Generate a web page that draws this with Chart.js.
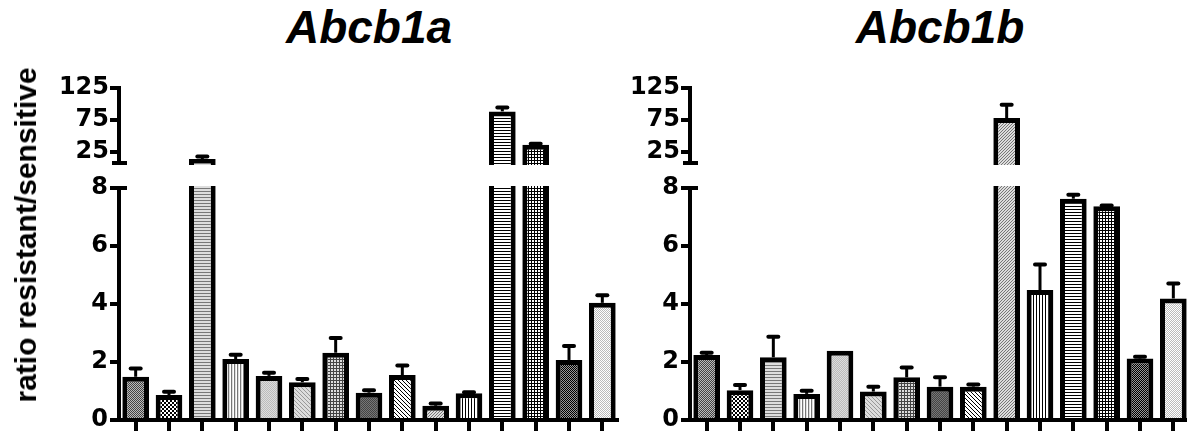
<!DOCTYPE html>
<html><head><meta charset="utf-8">
<script src="https://cdn.jsdelivr.net/npm/chart.js@4"></script>
<style>
html,body{margin:0;padding:0;background:#fff;overflow:hidden;width:1187px;height:438px;}
#wrap{position:relative;width:1187px;height:438px;overflow:hidden;}
canvas{position:absolute;}
.title{position:absolute;top:4px;font-family:'Liberation Sans',Arial,sans-serif;font-weight:bold;font-style:italic;font-size:46px;line-height:46px;white-space:nowrap;transform:translateX(-50%);color:#000;}
.ylab{position:absolute;left:26px;top:235px;font-family:'Liberation Sans',Arial,sans-serif;font-weight:bold;font-size:30px;line-height:30px;white-space:nowrap;transform:translate(-50%,-50%) rotate(-90deg);color:#000;}
</style></head>
<body><div id="wrap">
<canvas id="aHigh" width="619" height="111" style="left:0;top:70px;"></canvas>
<canvas id="aLow" width="619" height="268" style="left:0;top:170px;"></canvas>
<canvas id="bHigh" width="625" height="111" style="left:565px;top:70px;"></canvas>
<canvas id="bLow" width="625" height="268" style="left:565px;top:170px;"></canvas>
<div class="title" style="left:369px;">Abcb1a</div>
<div class="title" style="left:940px;">Abcb1b</div>
<div class="ylab">ratio resistant/sensitive</div>
</div>
<script>
// ---- data ----
const categories = ['1','2','3','4','5','6','7','8','9','10','11','12','13','14','15'];
const abcb1aValues = [1.49, 0.86, 14.2, 2.10, 1.52, 1.30, 2.32, 0.94, 1.55, 0.49, 0.92, 88.5, 36.5, 2.07, 4.04];
const abcb1aErrors = [0.29, 0.11, 4.1, 0.15, 0.11, 0.11, 0.51, 0.09, 0.33, 0.08, 0.04, 6.0, 1.5, 0.48, 0.26];
const abcb1bValues = [2.24, 1.03, 2.16, 0.90, 2.39, 0.98, 1.47, 1.15, 1.15, 78.2, 4.48, 7.63, 7.37, 2.12, 4.19];
const abcb1bErrors = [0.08, 0.18, 0.71, 0.11, 0.0, 0.17, 0.34, 0.32, 0.07, 20.8, 0.88, 0.14, 0.03, 0.06, 0.52];
const lowTicks = [0, 2, 4, 6, 8];
const highTicks = [25, 75, 125];
const LOW_MIN = 0, LOW_MAX = 8, HIGH_MAX = 125;

// ---- styling ----
const FONT = {family: "'DejaVu Sans', sans-serif", size: 24, weight: 'bold'};
const pal = {k:'#000000', d:'#444444', m:'#777777', g:'#999999', l:'#bbbbbb', p:'#dddddd', w:'#ffffff'};
function tile(rows) {
  const h = rows.length, w = rows[0].length;
  const c = document.createElement('canvas'); c.width = w; c.height = h;
  const cx = c.getContext('2d');
  for (let r = 0; r < h; r++) for (let q = 0; q < w; q++) {
    cx.fillStyle = pal[rows[r][q]]; cx.fillRect(q, r, 1, 1);
  }
  return c;
}
const tiles = [
  ['dl','ld'],
  ['kkww','kkww','wwkk','wwkk'],
  ['m','p','p'],
  ['mpw'],
  ['lp','pl'],
  ['gppp','pgpp','ppgp','pppg'],
  ['ddd','dpp','dpp'],
  ['dm','md'],
  ['kwww','wkww','wwkw','wwwk'],
  ['ppm','pmp','mpp'],
  ['kww'],
  ['k','w','w'],
  ['kkk','kww','kww'],
  ['kg','gk'],
  ['lw','wl']
].map(tile);
function patterns(ctx) { return tiles.map(t => ctx.createPattern(t, 'repeat')); }

function errPlugin(values, errors) {
  return {
    id: 'errbars',
    afterDatasetsDraw(chart) {
      const {ctx, chartArea: a, scales: {x, y}} = chart;
      ctx.save();
      ctx.beginPath(); ctx.rect(a.left, a.top - 20, a.right - a.left, a.bottom - a.top + 20); ctx.clip();
      ctx.strokeStyle = '#000';
      values.forEach((v, i) => {
        if (v == null || v < y.min || v > y.max || !errors[i]) return;
        const cx = x.getPixelForValue(i);
        const y0 = y.getPixelForValue(v), y1 = y.getPixelForValue(v + errors[i]);
        ctx.lineWidth = 3; ctx.lineCap = 'butt';
        ctx.beginPath(); ctx.moveTo(cx, y0); ctx.lineTo(cx, y1); ctx.stroke();
        ctx.lineWidth = 4; ctx.lineCap = 'round';
        ctx.beginPath(); ctx.moveTo(cx - 5, y1); ctx.lineTo(cx + 5, y1); ctx.stroke();
      });
      ctx.restore();
    }
  };
}
function breakPlugin(where) {
  return {
    id: 'brk',
    afterDraw(chart) {
      const {ctx, chartArea: a} = chart;
      ctx.save(); ctx.strokeStyle = '#000'; ctx.lineWidth = 4; ctx.beginPath();
      if (where === 'top') { ctx.moveTo(a.left - 2, a.top); ctx.lineTo(a.left + 8, a.top); }
      else { ctx.moveTo(a.left - 7, a.bottom); ctx.lineTo(a.left + 8, a.bottom); }
      ctx.stroke(); ctx.restore();
    }
  };
}
function yAxis(min, max, ticks, width, pad) {
  return {
    min: min, max: max,
    afterBuildTicks: s => { s.ticks = ticks.map(v => ({value: v})); },
    afterFit: s => { s.width = width; },
    grid: {drawOnChartArea: false, drawTicks: true, tickLength: 9, tickWidth: 4, lineWidth: 4, color: '#000'},
    border: {display: true, width: 4, color: '#000'},
    ticks: {font: FONT, color: '#000', padding: pad}
  };
}
function lowChart(id, values, errors, axisWidth) {
  const el = document.getElementById(id);
  return new Chart(el, {
    type: 'bar',
    data: {labels: categories, datasets: [{
      data: values, backgroundColor: patterns(el.getContext('2d')), borderColor: '#000', borderWidth: 5,
      borderSkipped: 'start', barPercentage: 0.8, categoryPercentage: 1,
      clip: {left: 0, right: 0, top: 2, bottom: 0}
    }]},
    options: {
      responsive: false, animation: false, devicePixelRatio: 1,
      layout: {padding: {top: 18, right: 0, bottom: 0, left: 0}},
      plugins: {legend: {display: false}, tooltip: {enabled: false}},
      scales: {
        x: {offset: true, afterFit: s => { s.height = 18; },
            grid: {offset: false, drawOnChartArea: false, drawTicks: true, tickLength: 11, tickWidth: 4, lineWidth: 4, color: '#000'},
            border: {display: true, width: 4, color: '#000'},
            ticks: {callback: () => '', padding: 0, font: {size: 1}}},
        y: yAxis(LOW_MIN, LOW_MAX, lowTicks, axisWidth, 2)
      }
    },
    plugins: [errPlugin(values, errors), breakPlugin('top')]
  });
}
function highChart(id, values, errors, axisWidth) {
  const el = document.getElementById(id);
  const hv = values.map(v => v > LOW_MAX ? v : null);
  return new Chart(el, {
    type: 'bar',
    data: {labels: categories, datasets: [{
      data: hv, backgroundColor: patterns(el.getContext('2d')), borderColor: '#000', borderWidth: 5,
      borderSkipped: 'start', barPercentage: 0.8, categoryPercentage: 1,
      clip: {left: 0, right: 0, top: 0, bottom: 2}
    }]},
    options: {
      responsive: false, animation: false, devicePixelRatio: 1,
      layout: {padding: {top: 18, right: 0, bottom: 18, left: 0}},
      plugins: {legend: {display: false}, tooltip: {enabled: false}},
      scales: {
        x: {display: false, offset: true},
        y: yAxis(LOW_MAX, HIGH_MAX, highTicks, axisWidth, 1)
      }
    },
    plugins: [errPlugin(hv, errors), breakPlugin('bottom')]
  });
}
lowChart('aLow', abcb1aValues, abcb1aErrors, 119);
highChart('aHigh', abcb1aValues, abcb1aErrors, 119);
lowChart('bLow', abcb1bValues, abcb1bErrors, 125);
highChart('bHigh', abcb1bValues, abcb1bErrors, 125);
</script>
</body></html>
